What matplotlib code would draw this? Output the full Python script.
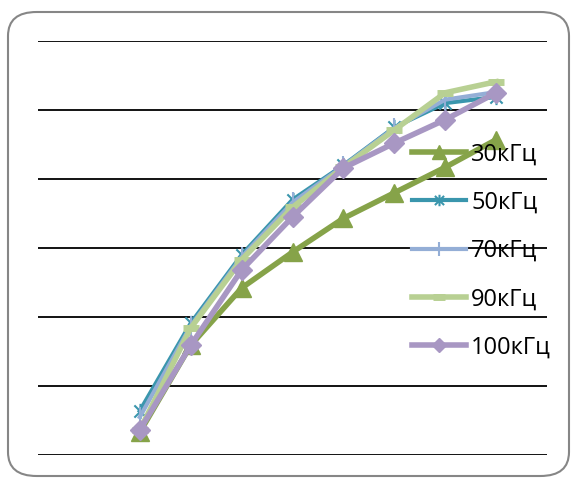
import matplotlib.pyplot as plt
import matplotlib as mpl
from matplotlib.patches import FancyBboxPatch
from matplotlib.path import Path
import numpy as np

mpl.rcParams['font.family'] = ['Open Sans', 'DejaVu Sans']

# category positions (axis 0..10, first two categories empty)
x = [2, 3, 4, 5, 6, 7, 8, 9]

f30 = [0.33, 1.59, 2.42, 2.94, 3.43, 3.80, 4.17, 4.57]
f50 = [0.64, 1.91, 2.90, 3.70, 4.20, 4.75, 5.10, 5.19]
f70 = [0.55, 1.87, 2.87, 3.66, 4.19, 4.74, 5.15, 5.26]
f90 = [0.36, 1.84, 2.83, 3.59, 4.17, 4.71, 5.25, 5.41]
f100 = [0.36, 1.59, 2.68, 3.45, 4.16, 4.52, 4.86, 5.25]

labels = ['30кГц', '50кГц', '70кГц', '90кГц', '100кГц']

# asterisk marker: vertical line + X
star = Path([(0, -1), (0, 1), (-0.8, -0.8), (0.8, 0.8), (-0.8, 0.8), (0.8, -0.8)],
            [Path.MOVETO, Path.LINETO, Path.MOVETO, Path.LINETO, Path.MOVETO, Path.LINETO])

fig = plt.figure(figsize=(5.72, 4.79), dpi=100)
ax = fig.add_axes([0.0664, 0.0501, 0.890, 0.8643])

ax.plot(x, f30, color='#86A349', lw=4, marker='^', ms=13, label=labels[0])
ax.plot(x, f50, color='#3A96AD', lw=3, marker=star, ms=11, mew=1.5,
        mec='#3A96AD', label=labels[1])
ax.plot(x, f70, color='#94AED6', lw=3, marker='|', ms=14, mew=1.5, label=labels[2])
ax.plot(x, f90, color='#B8D093', lw=4, marker='_', ms=11, mew=5, label=labels[3])
ax.plot(x, f100, color='#A897C3', lw=4, marker='D', ms=10, label=labels[4])

ax.set_xlim(0, 10)
ax.set_ylim(0, 6)
ax.set_yticks(range(7))
ax.grid(axis='y', color='black', lw=1.3)
ax.tick_params(left=False, bottom=False, labelleft=False, labelbottom=False)
for s in ax.spines.values():
    s.set_visible(False)
ax.set_axisbelow(True)

leg = ax.legend(loc='upper left', bbox_to_anchor=(0.735, 0.755), frameon=False,
                fontsize=17, handlelength=2.3, handletextpad=0.2,
                labelspacing=1.03, borderpad=0, borderaxespad=0, markerscale=0.75)

fig.patches.append(FancyBboxPatch((8 / 572, 3 / 479), 561 / 572, 464 / 479,
                                  boxstyle='round,pad=0,rounding_size=0.05',
                                  transform=fig.transFigure, fill=False,
                                  ec='#868686', lw=1.5))

fig.savefig('out.png', dpi=100)
